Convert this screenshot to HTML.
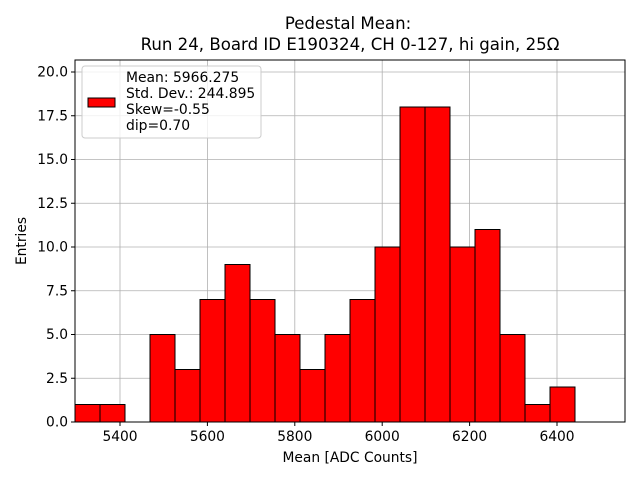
<!DOCTYPE html>
<html><head><style>body{margin:0;background:#fff}svg{display:block}text{font-family:"DejaVu Sans","Liberation Sans",sans-serif;fill:#000}</style></head>
<body>
<svg width="640" height="480" viewBox="0 0 640 480" xmlns="http://www.w3.org/2000/svg">
<rect width="640" height="480" fill="#fff"/>
<g stroke="#b0b0b0" stroke-width="0.8">
<line x1="120" y1="60" x2="120" y2="422"/><line x1="207.4" y1="60" x2="207.4" y2="422"/><line x1="294.8" y1="60" x2="294.8" y2="422"/><line x1="382.2" y1="60" x2="382.2" y2="422"/><line x1="469.6" y1="60" x2="469.6" y2="422"/><line x1="557" y1="60" x2="557" y2="422"/>
<line x1="75" y1="378.25" x2="625" y2="378.25"/><line x1="75" y1="334.5" x2="625" y2="334.5"/><line x1="75" y1="290.75" x2="625" y2="290.75"/><line x1="75" y1="247" x2="625" y2="247"/><line x1="75" y1="203.25" x2="625" y2="203.25"/><line x1="75" y1="159.5" x2="625" y2="159.5"/><line x1="75" y1="115.75" x2="625" y2="115.75"/><line x1="75" y1="72" x2="625" y2="72"/>
</g>
<g fill="#ff0000" stroke="#000" stroke-width="1">
<rect x="75" y="404.5" width="25" height="17.5"/>
<rect x="100" y="404.5" width="25" height="17.5"/>
<rect x="150" y="334.5" width="25" height="87.5"/>
<rect x="175" y="369.5" width="25" height="52.5"/>
<rect x="200" y="299.5" width="25" height="122.5"/>
<rect x="225" y="264.5" width="25" height="157.5"/>
<rect x="250" y="299.5" width="25" height="122.5"/>
<rect x="275" y="334.5" width="25" height="87.5"/>
<rect x="300" y="369.5" width="25" height="52.5"/>
<rect x="325" y="334.5" width="25" height="87.5"/>
<rect x="350" y="299.5" width="25" height="122.5"/>
<rect x="375" y="247" width="25" height="175"/>
<rect x="400" y="107" width="25" height="315"/>
<rect x="425" y="107" width="25" height="315"/>
<rect x="450" y="247" width="25" height="175"/>
<rect x="475" y="229.5" width="25" height="192.5"/>
<rect x="500" y="334.5" width="25" height="87.5"/>
<rect x="525" y="404.5" width="25" height="17.5"/>
<rect x="550" y="387" width="25" height="35"/>
</g>
<rect x="75" y="60" width="550" height="362" fill="none" stroke="#000" stroke-width="1"/>
<g stroke="#000" stroke-width="1">
<line x1="120" y1="422" x2="120" y2="426"/><line x1="207.4" y1="422" x2="207.4" y2="426"/><line x1="294.8" y1="422" x2="294.8" y2="426"/><line x1="382.2" y1="422" x2="382.2" y2="426"/><line x1="469.6" y1="422" x2="469.6" y2="426"/><line x1="557" y1="422" x2="557" y2="426"/>
<line x1="71" y1="422" x2="75" y2="422"/><line x1="71" y1="378.25" x2="75" y2="378.25"/><line x1="71" y1="334.5" x2="75" y2="334.5"/><line x1="71" y1="290.75" x2="75" y2="290.75"/><line x1="71" y1="247" x2="75" y2="247"/><line x1="71" y1="203.25" x2="75" y2="203.25"/><line x1="71" y1="159.5" x2="75" y2="159.5"/><line x1="71" y1="115.75" x2="75" y2="115.75"/><line x1="71" y1="72" x2="75" y2="72"/>
</g>
<g font-size="13.8" text-anchor="middle">
<text x="120" y="441">5400</text><text x="207.4" y="441">5600</text><text x="294.8" y="441">5800</text><text x="382.2" y="441">6000</text><text x="469.6" y="441">6200</text><text x="557" y="441">6400</text>
<text x="350" y="462">Mean [ADC Counts]</text>
</g>
<g font-size="13.8" text-anchor="end">
<text x="68" y="426.5">0.0</text><text x="68" y="382.75">2.5</text><text x="68" y="339">5.0</text><text x="68" y="295.25">7.5</text><text x="68" y="251.5">10.0</text><text x="68" y="207.75">12.5</text><text x="68" y="164">15.0</text><text x="68" y="120.25">17.5</text><text x="68" y="76.5">20.0</text>
</g>
<text x="26" y="241" font-size="13.8" text-anchor="middle" transform="rotate(-90 26 241)">Entries</text>
<text x="348" y="29" font-size="16.6" text-anchor="middle">Pedestal Mean:</text>
<text x="350" y="50" font-size="16.6" text-anchor="middle">Run 24, Board ID E190324, CH 0-127, hi gain, 25Ω</text>
<rect x="82" y="66" width="179" height="72" rx="3" fill="#fff" fill-opacity="0.8" stroke="#ccc"/>
<rect x="88" y="98" width="27" height="9" fill="#ff0000" stroke="#000"/>
<g font-size="13.9">
<text x="126" y="82">Mean: 5966.275</text><text x="126" y="98">Std. Dev.: 244.895</text><text x="126" y="114">Skew=-0.55</text><text x="126" y="130">dip=0.70</text>
</g>
</svg>
</body></html>
